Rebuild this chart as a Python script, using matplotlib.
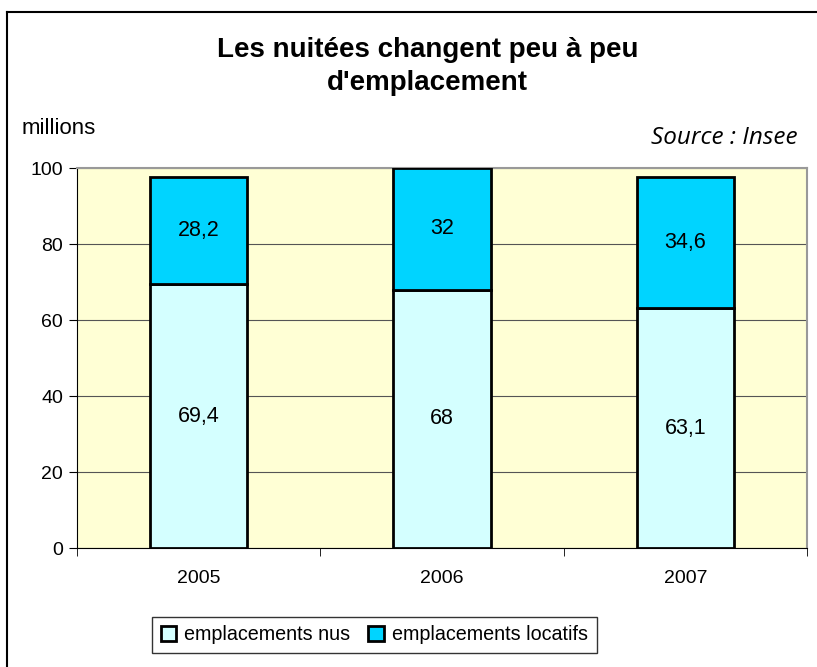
import matplotlib.pyplot as plt
from matplotlib.lines import Line2D
import numpy as np

plt.rcParams['font.family'] = ['Liberation Sans', 'DejaVu Sans']

# Données
annees = ['2005', '2006', '2007']
nus = [69.4, 68, 63.1]
locatifs = [28.2, 32, 34.6]
etiquettes_nus = ['69,4', '68', '63,1']
etiquettes_locatifs = ['28,2', '32', '34,6']
legende = ['emplacements nus', 'emplacements locatifs']

fig = plt.figure(figsize=(8.17, 6.67), dpi=100)
ax = fig.add_axes([0.0942, 0.1784, 0.8938, 0.5696])
ax.set_facecolor('#FFFFD5')

x = np.arange(len(annees))
b1 = ax.bar(x, nus, 0.4, color='#D4FFFF', edgecolor='black', linewidth=2, zorder=3, label=legende[0])
b2 = ax.bar(x, locatifs, 0.4, bottom=nus, color='#00D4FF', edgecolor='black', linewidth=2, zorder=3, label=legende[1])

for i in range(len(annees)):
    ax.text(x[i], nus[i] / 2, etiquettes_nus[i], ha='center', va='center', fontsize=15.5, zorder=4)
    ax.text(x[i], nus[i] + locatifs[i] / 2, etiquettes_locatifs[i], ha='center', va='center', fontsize=15.5, zorder=4)

ax.set_xlim(-0.5, 2.5)
ax.set_ylim(0, 100)
ax.set_yticks([0, 20, 40, 60, 80, 100])
ax.yaxis.grid(True, color='#555555', linewidth=0.8, zorder=0)
ax.set_xticks(x)
ax.set_xticklabels(annees, fontsize=14)
ax.set_xticks([-0.5, 0.5, 1.5, 2.5], minor=True)
ax.tick_params(axis='x', which='major', length=0, pad=16)
ax.tick_params(axis='x', which='minor', length=6, direction='out')
ax.tick_params(axis='y', labelsize=14, length=6, direction='out', pad=4)

ax.spines['top'].set_color('#999999')
ax.spines['right'].set_color('#999999')
ax.spines['top'].set_linewidth(1.5)
ax.spines['right'].set_linewidth(1.5)

fig.text(0.523, 0.9, "Les nuitées changent peu à peu\nd'emplacement", ha='center', va='center',
         fontsize=20, fontweight='bold', linespacing=1.35)
fig.text(0.027, 0.808, 'millions', fontsize=16, va='center')
fig.text(0.976, 0.793, 'Source : Insee', fontsize=17.5, style='italic', ha='right', va='center',
         family=['Open Sans', 'DejaVu Sans'])

leg = fig.legend(handles=[b1, b2], labels=legende, loc='center', bbox_to_anchor=(0.458, 0.048),
                 ncol=2, fontsize=14.2, frameon=True, fancybox=False, edgecolor='black',
                 handlelength=0.8, handleheight=0.8, handletextpad=0.4, columnspacing=0.9,
                 borderpad=0.45)
leg.get_frame().set_linewidth(1)

# cadre du graphique
fig.add_artist(Line2D([7 / 817, 1], [1 - 12 / 667, 1 - 12 / 667], color='black', linewidth=1.5))
fig.add_artist(Line2D([7 / 817, 7 / 817], [0, 1 - 12 / 667], color='black', linewidth=1.5))

fig.savefig('out.png', dpi=100)
